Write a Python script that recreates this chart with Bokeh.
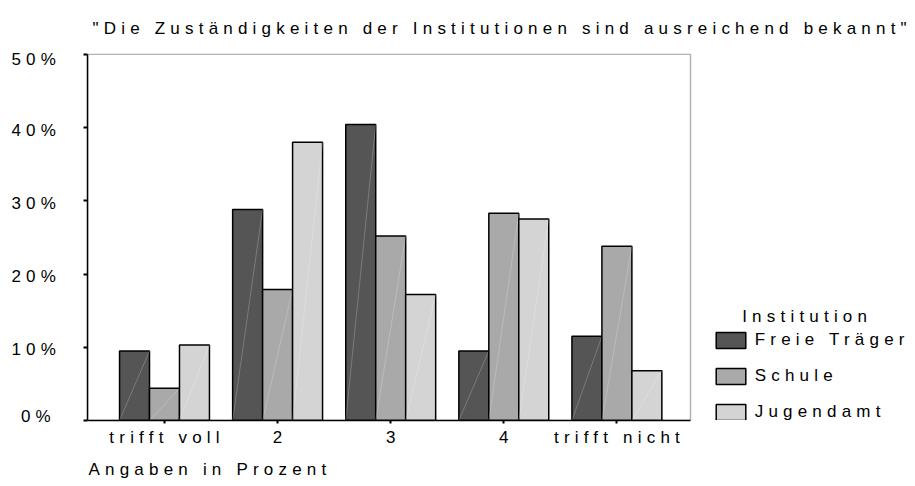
from bokeh.plotting import figure
from bokeh.models import (Range1d, FixedTicker, Legend, LegendItem, Title, Label,
                          InlineStyleSheet, ColumnDataSource, BoxAnnotation)
from bokeh.embed import file_html
from bokeh.resources import INLINE

# ---------------- data ----------------
categories = ["trifft voll", "2", "3", "4", "trifft nicht"]
series_names = ["Freie Träger", "Schule", "Jugendamt"]
freie_traeger = [9.5, 28.8, 40.4, 9.5, 11.5]
schule = [4.4, 17.9, 25.2, 28.3, 23.8]
jugendamt = [10.3, 38.0, 17.2, 27.5, 6.8]
y_ticks = [0, 10, 20, 30, 40, 50]
y_tick_labels = ["0%", "10%", "20%", "30%", "40%", "50%"]
title_text = '"Die Zuständigkeiten der Institutionen sind ausreichend bekannt"'
x_axis_title = "Angaben in Prozent"
legend_title = "Institution"
colors = ["#555555", "#a9a9a9", "#d4d4d4"]

# ---------------- layout constants ----------------
FONT = "Liberation Sans"
FS = "17px"
LS = 5.2                     # letter spacing (px)
W, H = 915, 486
FRAME_L, FRAME_T, FRAME_B = 87, 53, 421
PX_PER_UNIT = 113.1          # px per category step
PX_PER_PCT = 7.344           # px per percent
BOX_W_PX = 603               # visible plot box width
Y_LABEL_NUDGE_PX = [-4.5, 2.0, 2.5, 2.5, 2.5, 5.0]   # downward nudge of y tick labels

frame_w = W - FRAME_L
frame_h = FRAME_B - FRAME_T
x_start = -77.0 / PX_PER_UNIT
x_end = x_start + frame_w / PX_PER_UNIT
box_right = x_start + BOX_W_PX / PX_PER_UNIT
y_end = frame_h / PX_PER_PCT

p = figure(width=W, height=H, output_backend="svg", toolbar_location=None,
           x_range=Range1d(x_start, x_end), y_range=Range1d(0, y_end),
           min_border_left=FRAME_L, min_border_right=0, min_border_top=FRAME_T,
           min_border_bottom=H - FRAME_B)
p.stylesheets = [InlineStyleSheet(css=":host { letter-spacing: %spx; }" % LS)]

p.xgrid.visible = False
p.ygrid.visible = False
p.outline_line_color = None
p.background_fill_color = "white"
p.border_fill_color = "white"

bar_w = 0.265
offsets = [-bar_w, 0.0, bar_w]
series = [freie_traeger, schule, jugendamt]

renderers = []
for vals, off, col in zip(series, offsets, colors):
    xs = [i + off for i in range(len(categories))]
    src = ColumnDataSource(dict(x=xs, top=vals,
                                left=[x - bar_w / 2 for x in xs],
                                right=[x + bar_w / 2 for x in xs],
                                zero=[0] * len(vals)))
    r = p.vbar(x="x", top="top", width=bar_w, source=src, fill_color=col,
               line_color="black", line_width=1.5)
    p.segment(x0="left", y0="zero", x1="right", y1="top", source=src,
              line_color="white", line_alpha=0.22, line_width=1)
    renderers.append(r)

# plot box (top / right edges)
p.add_layout(BoxAnnotation(left=x_start, right=box_right, bottom=0, top=y_ticks[-1],
                           fill_alpha=0, line_color="black", line_width=1.5,
                           level="overlay"))

# y axis: visible tick marks (minor ticks) at the values,
# labels (major ticks, no marks) slightly nudged as in the reference
y_label_pos = [t - n / PX_PER_PCT for t, n in zip(y_ticks, Y_LABEL_NUDGE_PX)]
ya = p.yaxis[0]
ya.ticker = FixedTicker(ticks=y_label_pos, minor_ticks=y_ticks)
ya.bounds = (y_ticks[0], y_ticks[-1])
ya.major_label_overrides = {t: l for t, l in zip(y_label_pos, y_tick_labels)}
ya.major_tick_line_color = None
ya.major_tick_out = 4
ya.major_tick_in = 0
ya.minor_tick_line_color = "black"
ya.minor_tick_line_width = 2
ya.minor_tick_out = 4
ya.minor_tick_in = 0
ya.axis_line_width = 1.5
ya.major_label_standoff = 38
ya.major_label_text_font = FONT
ya.major_label_text_font_size = FS
ya.major_label_text_color = "black"

# x axis: visible tick marks (minor ticks) at category centres,
# labels (major ticks) shifted to compensate for the letter spacing
label_pos = [i - (len(c) - 1) * LS / 2 / PX_PER_UNIT for i, c in enumerate(categories)]
xa = p.xaxis[0]
xa.ticker = FixedTicker(ticks=label_pos, minor_ticks=list(range(len(categories))))
xa.bounds = (x_start, box_right)
xa.major_label_overrides = {x: c for x, c in zip(label_pos, categories)}
xa.major_tick_line_color = None
xa.major_tick_out = 3
xa.major_tick_in = 0
xa.minor_tick_line_color = "black"
xa.minor_tick_line_width = 2
xa.minor_tick_out = 3
xa.minor_tick_in = 0
xa.axis_line_width = 1.5
xa.major_label_standoff = 4
xa.major_label_text_font = FONT
xa.major_label_text_font_size = FS
xa.major_label_text_color = "black"

# title
p.title.text = title_text
p.title.align = "left"
p.title.offset = 5
p.title.standoff = 31
p.title.text_font = FONT
p.title.text_font_size = FS
p.title.text_font_style = "normal"
p.title.text_color = "black"

p.add_layout(Title(text=x_axis_title, align="left", offset=1, standoff=16,
                   text_font=FONT, text_font_size=FS, text_font_style="normal",
                   text_color="black"), "below")

legend = Legend(items=[LegendItem(label=n, renderers=[r]) for n, r in zip(series_names, renderers)],
                location=(624.7, -1.7), glyph_width=37, glyph_height=20, label_height=20,
                label_standoff=6, spacing=16, padding=0, margin=0,
                border_line_color=None, background_fill_alpha=0,
                label_text_font=FONT, label_text_font_size=FS, label_text_color="black")
p.add_layout(legend, "center")

p.add_layout(Label(x=x_start + 654.7 / PX_PER_UNIT, y=(FRAME_B - 316.7) / PX_PER_PCT,
                   text=legend_title, text_font=FONT, text_font_size=FS,
                   text_color="black", text_baseline="alphabetic", text_align="left"))

open("out.html", "w").write(file_html(p, INLINE))
